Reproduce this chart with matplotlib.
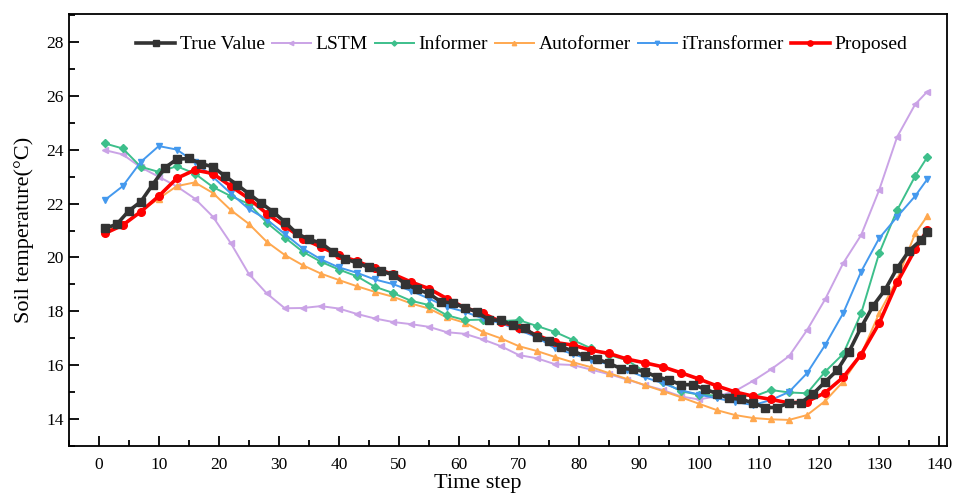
import numpy as np
import matplotlib
matplotlib.use("Agg")
import matplotlib.pyplot as plt
from matplotlib.ticker import MultipleLocator

plt.rcParams['font.family'] = ['Liberation Serif', 'DejaVu Serif']

# True value sampled every 2 steps
t_true = [1, 3, 5, 7, 9, 11, 13, 15, 17, 19, 21, 23, 25, 27, 29, 31, 33, 35, 37, 39,
          41, 43, 45, 47, 49, 51, 53, 55, 57, 59, 61, 63, 65, 67, 69, 71, 73, 75, 77, 79,
          81, 83, 85, 87, 89, 91, 93, 95, 97, 99, 101, 103, 105, 107, 109, 111, 113, 115,
          117, 119, 121, 123, 125, 127, 129, 131, 133, 135, 137, 138]
true_value = [21.08, 21.23, 21.73, 22.07, 22.71, 23.33, 23.65, 23.68, 23.49, 23.37,
              23.03, 22.71, 22.37, 22.03, 21.70, 21.32, 20.89, 20.67, 20.54, 20.21,
              19.95, 19.80, 19.63, 19.49, 19.36, 19.03, 18.81, 18.66, 18.35, 18.31,
              18.13, 17.98, 17.67, 17.67, 17.48, 17.36, 17.05, 16.90, 16.68, 16.52,
              16.33, 16.22, 16.06, 15.87, 15.84, 15.75, 15.56, 15.44, 15.27, 15.27,
              15.10, 14.94, 14.76, 14.73, 14.59, 14.42, 14.42, 14.59, 14.60, 14.93,
              15.37, 15.80, 16.50, 17.40, 18.20, 18.80, 19.60, 20.25, 20.65, 20.95]

# Model predictions sampled every 3 steps
t_pred = [1, 4, 7, 10, 13, 16, 19, 22, 25, 28, 31, 34, 37, 40, 43, 46, 49, 52, 55, 58,
          61, 64, 67, 70, 73, 76, 79, 82, 85, 88, 91, 94, 97, 100, 103, 106, 109, 112,
          115, 118, 121, 124, 127, 130, 133, 136, 138]
lstm = [23.99, 23.83, 23.35, 23.00, 22.64, 22.19, 21.52, 20.53, 19.39, 18.66,
        18.11, 18.12, 18.19, 18.10, 17.90, 17.73, 17.60, 17.52, 17.42, 17.22,
        17.16, 16.95, 16.70, 16.37, 16.25, 16.03, 16.00, 15.83, 15.66, 15.46,
        15.25, 15.07, 14.83, 14.72, 14.84, 15.03, 15.41, 15.84, 16.33, 17.30,
        18.44, 19.78, 20.83, 22.50, 24.48, 25.69, 26.16]
informer = [24.24, 24.05, 23.37, 23.18, 23.39, 23.12, 22.62, 22.28, 21.99, 21.29,
            20.74, 20.21, 19.84, 19.55, 19.30, 18.91, 18.68, 18.39, 18.23, 17.85,
            17.67, 17.69, 17.63, 17.67, 17.45, 17.23, 16.93, 16.62, 16.37, 16.18,
            15.75, 15.38, 15.02, 14.90, 14.86, 14.92, 14.82, 15.07, 14.98, 14.95,
            15.75, 16.41, 17.92, 20.15, 21.76, 23.02, 23.72]
autoformer = [20.95, 21.23, 21.72, 22.19, 22.65, 22.79, 22.40, 21.76, 21.25, 20.58,
              20.09, 19.71, 19.40, 19.16, 18.93, 18.72, 18.54, 18.29, 18.10, 17.77,
              17.57, 17.23, 16.99, 16.70, 16.52, 16.30, 16.10, 15.92, 15.70, 15.48,
              15.25, 15.03, 14.80, 14.56, 14.32, 14.14, 14.03, 13.98, 13.96, 14.14,
              14.66, 15.38, 16.39, 17.92, 19.18, 20.89, 21.53]
itransformer = [22.13, 22.65, 23.55, 24.14, 24.01, 23.55, 23.00, 22.38, 21.80, 21.41,
                20.87, 20.33, 19.93, 19.63, 19.43, 19.18, 19.01, 18.76, 18.47, 18.16,
                17.98, 17.73, 17.55, 17.30, 17.03, 16.62, 16.41, 16.18, 16.03, 15.81,
                15.54, 15.32, 15.06, 14.90, 14.76, 14.63, 14.51, 14.70, 15.00, 15.70,
                16.74, 17.92, 19.47, 20.71, 21.51, 22.28, 22.90]
proposed = [20.89, 21.20, 21.70, 22.28, 22.94, 23.25, 23.12, 22.65, 22.19, 21.63,
            21.16, 20.70, 20.39, 20.08, 19.86, 19.59, 19.38, 19.09, 18.84, 18.47,
            18.13, 17.92, 17.61, 17.38, 17.11, 16.84, 16.74, 16.55, 16.43, 16.22,
            16.08, 15.93, 15.71, 15.48, 15.22, 15.00, 14.84, 14.72, 14.59, 14.64,
            14.97, 15.54, 16.39, 17.55, 19.07, 20.30, 21.01]

fig = plt.figure(figsize=(9.57, 4.97), dpi=100)
ax = fig.add_axes([0.0718, 0.1032, 0.9177, 0.8686])

ax.plot(t_true, true_value, color='#333333', lw=2.6, marker='s', ms=5.5,
        label='True Value', zorder=6)
ax.plot(t_pred, lstm, color='#caa3e6', lw=1.4, marker='<', ms=4.5,
        label='LSTM', zorder=3)
ax.plot(t_pred, informer, color='#3dbf8b', lw=1.4, marker='D', ms=3.8,
        label='Informer', zorder=4)
ax.plot(t_pred, autoformer, color='#ffa84f', lw=1.4, marker='^', ms=4.5,
        label='Autoformer', zorder=3)
ax.plot(t_pred, itransformer, color='#4499ee', lw=1.4, marker='v', ms=4.5,
        label='iTransformer', zorder=4)
ax.plot(t_pred, proposed, color='#ff0000', lw=2.6, marker='o', ms=5.5,
        label='Proposed', zorder=5)

ax.set_xlim(-5, 141.3)
ax.set_ylim(13, 29.05)
ax.xaxis.set_major_locator(MultipleLocator(10))
ax.xaxis.set_minor_locator(MultipleLocator(5))
ax.yaxis.set_major_locator(MultipleLocator(2))
ax.yaxis.set_minor_locator(MultipleLocator(1))
ax.tick_params(which='major', direction='in', length=7.5, width=1.3, labelsize=12.5,
               top=False, right=False)
ax.tick_params(which='minor', direction='in', length=4, width=1.3,
               top=False, right=False)
ax.tick_params(axis='x', pad=8)
for s in ax.spines.values():
    s.set_linewidth(1.3)

ax.set_xlabel('Time step', fontsize=16)
ax.xaxis.set_label_coords(0.466, -0.066)
ax.set_ylabel('Soil temperature(\u00b0C)', fontsize=16, labelpad=9)

leg = ax.legend(loc='upper center', ncol=6, frameon=False, fontsize=14,
                bbox_to_anchor=(0.516, 0.99), handlelength=2.0, columnspacing=0.35,
                handletextpad=0.25, markerscale=0.7)

fig.savefig('out.png', dpi=100)
